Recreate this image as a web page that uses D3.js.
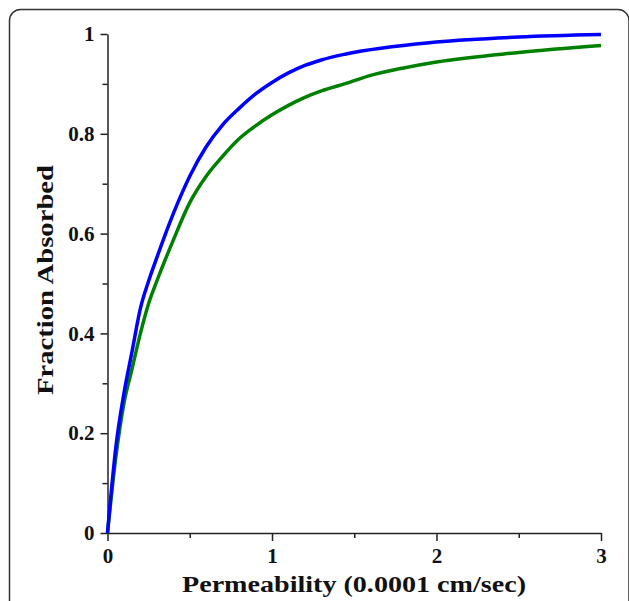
<!DOCTYPE html>
<html>
<head>
<meta charset="utf-8">
<script src="https://cdn.jsdelivr.net/npm/d3@7"></script>
<style>
  body { margin: 0; background: #fff; }
  svg { display: block; }
  .tick text { font-family: "Liberation Serif", "Times New Roman", serif; font-weight: bold; font-size: 21px; fill: #111; }
  .label { font-family: "Liberation Serif", "Times New Roman", serif; font-weight: bold; font-size: 24px; fill: #111; }
</style>
</head>
<body>
<div class="core_div"></div>
<script>
// Permeability (0.0001 cm/sec)
var permeability = [0, 0.05, 0.1, 0.15, 0.2, 0.25, 0.3, 0.4, 0.5, 0.6, 0.7, 0.8, 0.9, 1.0, 1.1, 1.2, 1.3, 1.45, 2.0, 2.5, 3.0];
// fraction absorbed, blue curve
var fracBlue  = [0, 0.17, 0.28, 0.365, 0.45, 0.505, 0.552, 0.64, 0.715, 0.774, 0.818, 0.851, 0.880, 0.903, 0.922, 0.937, 0.948, 0.960, 0.984, 0.994, 0.999];

// green curve has its own sampling after 1.45
var permGreen = [0, 0.05, 0.1, 0.15, 0.2, 0.25, 0.3, 0.4, 0.5, 0.6, 0.7, 0.8, 0.9, 1.0, 1.1, 1.2, 1.3, 1.45, 1.6, 1.8, 2.0, 2.5, 3.0];
var fracGreen = [0, 0.15, 0.26, 0.33, 0.40, 0.46, 0.505, 0.587, 0.662, 0.715, 0.755, 0.79, 0.816, 0.838, 0.857, 0.873, 0.886, 0.901, 0.917, 0.932, 0.944, 0.963, 0.977];

var xMajor = [0, 1, 2, 3];
var xMinor = [0.5, 1.5, 2.5];
var yMajor = [0, 0.2, 0.4, 0.6, 0.8, 1];
var yMinor = [0.1, 0.3, 0.5, 0.7, 0.9];

var width = 629, height = 601;

var svg = d3.select(".core_div").append("svg")
    .attr("width", width)
    .attr("height", height);

// rounded frame around the figure
svg.append("rect")
    .attr("x", 9.5).attr("y", 9.5)
    .attr("width", 619.5).attr("height", 640)
    .attr("rx", 11).attr("ry", 11)
    .style("fill", "none")
    .style("stroke", "#333")
    .style("stroke-width", 1.5);

var x = d3.scaleLinear().domain([0, 3]).range([107.5, 601]);
var y = d3.scaleLinear().domain([0, 1]).range([533, 34]);

// minor ticks first, then major ones with labels
svg.append("g")
    .attr("transform", "translate(0," + y(0) + ")")
    .call(d3.axisBottom(x).tickValues(xMinor).tickSize(5).tickSizeOuter(0).tickFormat(""))
    .call(function(g) { g.select(".domain").remove(); });

var xAxis = svg.append("g")
    .attr("transform", "translate(0," + y(0) + ")")
    .call(d3.axisBottom(x).tickValues(xMajor).tickSize(8).tickSizeOuter(0).tickPadding(7).tickFormat(d3.format("d")));

svg.append("g")
    .attr("transform", "translate(" + x(0) + ",0)")
    .call(d3.axisLeft(y).tickValues(yMinor).tickSize(5).tickSizeOuter(0).tickFormat(""))
    .call(function(g) { g.select(".domain").remove(); });

var yAxis = svg.append("g")
    .attr("transform", "translate(" + x(0) + ",0)")
    .call(d3.axisLeft(y).tickValues(yMajor).tickSize(7).tickSizeOuter(0).tickPadding(6).tickFormat(d3.format("")));

svg.selectAll(".domain, .tick line")
    .style("stroke", "#222")
    .style("stroke-width", 1.5);

var line = d3.line()
    .curve(d3.curveMonotoneX)
    .x(function(d) { return x(d[0]); })
    .y(function(d) { return y(d[1]); });

svg.append("path")
    .datum(d3.zip(permGreen, fracGreen))
    .attr("d", line)
    .style("fill", "none")
    .style("stroke", "#008000")
    .style("stroke-width", 3.5);

svg.append("path")
    .datum(d3.zip(permeability, fracBlue))
    .attr("d", line)
    .style("fill", "none")
    .style("stroke", "#0000ff")
    .style("stroke-width", 3.5);

// axis titles
svg.append("text")
    .attr("class", "label")
    .attr("x", 354).attr("y", 592)
    .attr("text-anchor", "middle")
    .attr("textLength", 344)
    .attr("lengthAdjust", "spacingAndGlyphs")
    .text("Permeability (0.0001 cm/sec)");

svg.append("text")
    .attr("class", "label")
    .attr("transform", "translate(53,280) rotate(-90)")
    .attr("text-anchor", "middle")
    .attr("textLength", 230)
    .attr("lengthAdjust", "spacingAndGlyphs")
    .text("Fraction Absorbed");
</script>
</body>
</html>
